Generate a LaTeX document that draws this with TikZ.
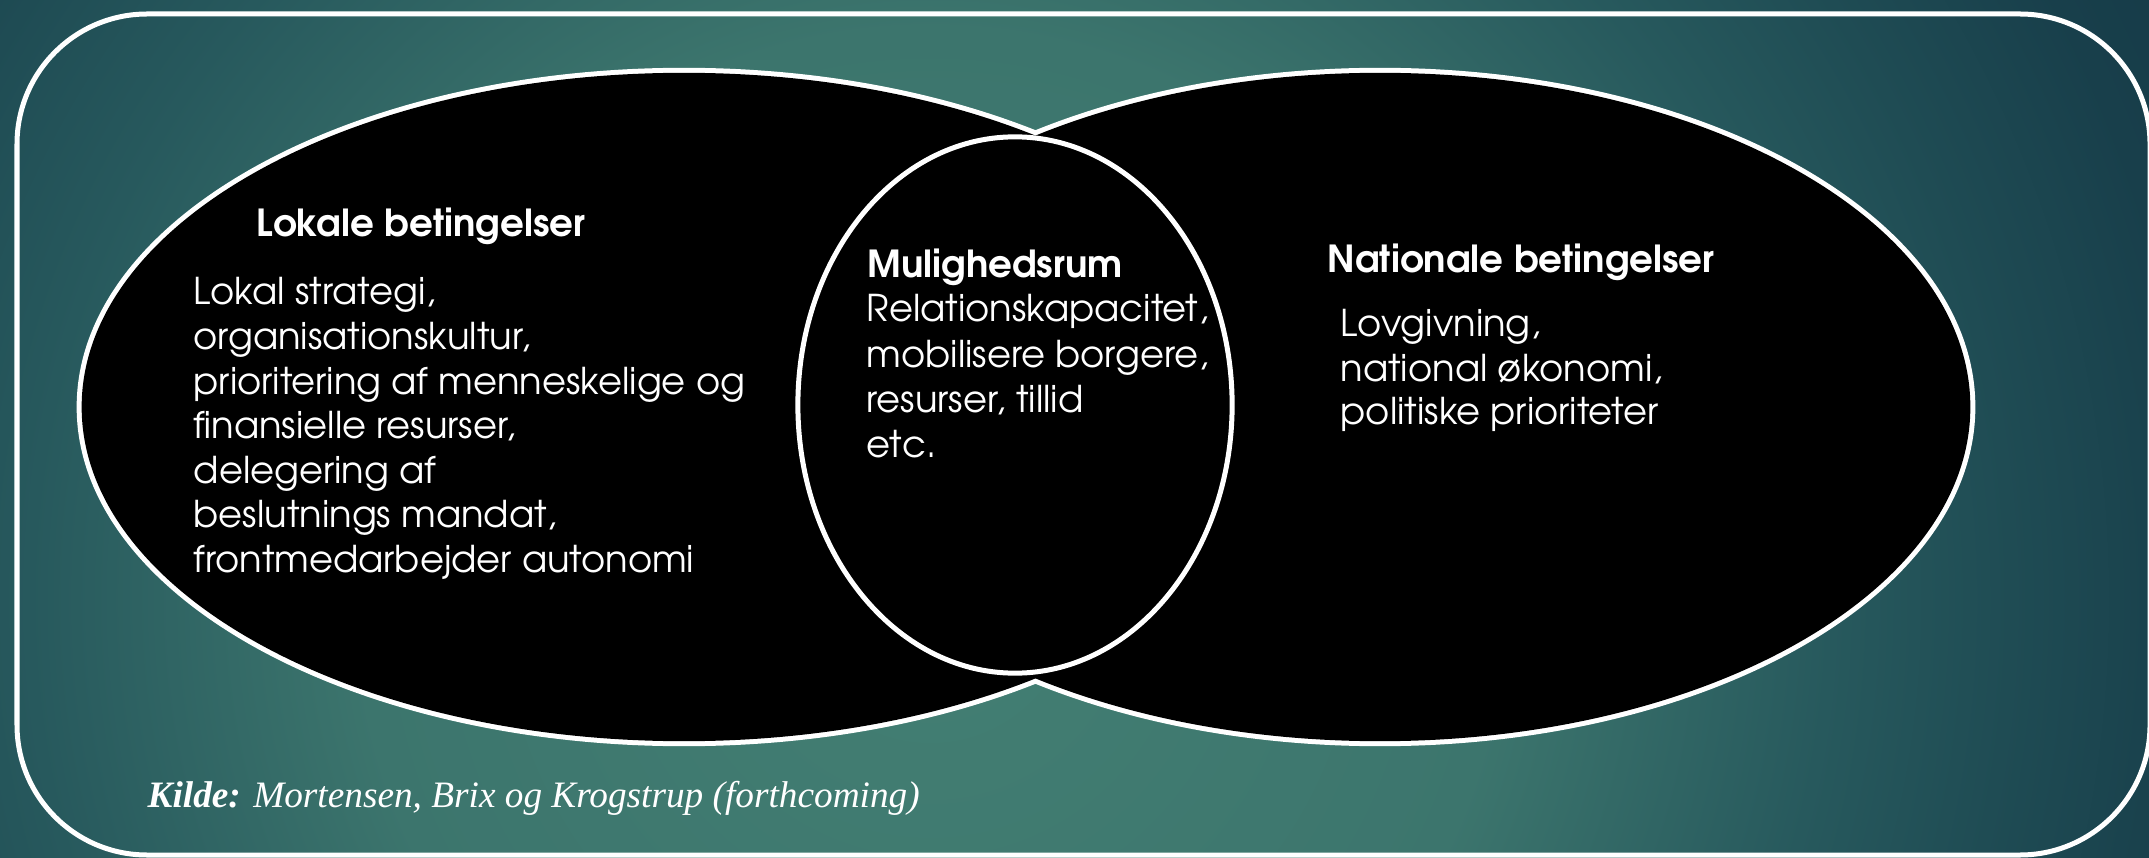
\documentclass[tikz,border=0pt]{standalone}
\usepackage{fontspec}
\setmainfont{TeX Gyre Adventor}
\newfontfamily\kildefont{Liberation Serif}
\definecolor{bgA}{HTML}{437F73}
\definecolor{bgB}{HTML}{3C756D}
\definecolor{bgC}{HTML}{27595D}
\definecolor{bgD}{HTML}{1F4C54}
\definecolor{bgE}{HTML}{183F4B}
\definecolor{bgF}{HTML}{143846}
\pgfdeclareradialshading{bgshade}{\pgfpoint{0bp}{0bp}}{color(0bp)=(bgA); color(9.5bp)=(bgB); color(15bp)=(bgC); color(18bp)=(bgD); color(21.25bp)=(bgE); color(25bp)=(bgF); color(50bp)=(bgF)}
\begin{document}
\begin{tikzpicture}[x=0.01cm,y=-0.01cm,
  wline/.style={draw=white,line width=0.05cm},
  body/.style={text=white,font=\fontsize{10.5}{12}\selectfont,inner sep=0pt,anchor=base west},
  head/.style={text=white,font=\bfseries\fontsize{10.6}{12}\selectfont,inner sep=0pt,anchor=base west}]
\useasboundingbox (0,0) rectangle (2149,858);
\begin{scope}
\clip (0,0) rectangle (2149,858);
\shade[shading=bgshade] (930,600) ellipse [x radius=15cm, y radius=15cm];
\end{scope}
% outer frame
\draw[wline, rounded corners=1.3cm] (17,14) rectangle (2150,855);
% two ellipses
\path[draw=white, line width=0.1cm] (684,407) ellipse [x radius=6.02cm, y radius=3.34cm]
  (1380,407) ellipse [x radius=5.90cm, y radius=3.34cm];
\fill[black] (684,407) ellipse [x radius=6.02cm, y radius=3.34cm]
  (1380,407) ellipse [x radius=5.90cm, y radius=3.34cm];
% middle circle
\draw[wline, fill=black] (1015,405) ellipse [x radius=2.17cm, y radius=2.68cm];
% texts
\node[head] (lokT) at (256,237) {Lokale betingelser};
\foreach \t [count=\i] in {{Lokal strategi,},{organisationskultur,},{prioritering af menneskelige og},{finansielle resurser,},{delegering af},{beslutnings mandat,},{frontmedarbejder autonomi}}
  \node[body] (lok\i) at (193,{305+44.5*(\i-1)}) {\t};
\node[head] (mulT) at (867,278) {Mulighedsrum};
\foreach \t [count=\i] in {{Relationskapacitet,},{mobilisere borgere,},{resurser, tillid},{etc.}}
  \node[body] (mul\i) at (866,{322+45.3*(\i-1)}) {\t};
\node[head] (natT) at (1327,273) {Nationale betingelser};
\foreach \t [count=\i] in {{Lovgivning,},{national økonomi,},{politiske prioriteter}}
  \node[body] (nat\i) at (1340,{337+44*(\i-1)}) {\t};
\node[anchor=base west, text=white, inner sep=0pt, font=\kildefont\itshape\fontsize{10.6}{13}\selectfont] (src) at (147,807) {\textbf{Kilde:} Mortensen, Brix og Krogstrup (forthcoming)};
\end{tikzpicture}
\end{document}
